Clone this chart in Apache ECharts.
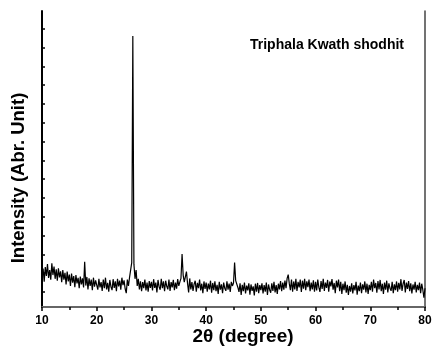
<!DOCTYPE html>
<html>
<head>
<meta charset="utf-8">
<script src="https://cdn.jsdelivr.net/npm/echarts@6/dist/echarts.min.js"></script>
<style>html,body{margin:0;padding:0;background:#fff}#c{width:435px;height:349px}</style>
</head>
<body>
<div id="c"></div>
<script>
// 2θ sampling grid
var twoThetaStart = 10.0;
var twoThetaStep = 0.2;
// Intensity readings (arbitrary units), 10.0° .. 80.0° in 0.2° steps
var seg10 = [150,205,135,212,165,228,155,196,145,232,
             170,215,150,200,140,206,158,190,132,196,
             146,182,120,188,136,172,112,178,130,164,
             106,170,126,155,100,162,120,152,104,240,
             114,160,94,152,112,146,90,156,108,142];
var seg20 = [132,92,150,104,132,86,146,100,156,94,
             128,82,144,108,90,148,102,136,84,150,
             110,140,92,156,116,142,96,74,146,112,
             158,162,236,1442,228,150,196,112,150,94,
             136,84,132,100,146,88,130,82,138,102];
var seg30 = [134,88,148,102,130,78,144,108,92,150,
             100,136,84,140,110,94,146,86,132,104,
             144,90,130,98,148,112,134,152,282,170,
             132,160,188,126,78,152,94,132,86,122,
             140,82,128,100,146,88,124,74,136,96];
var seg40 = [130,82,124,94,140,76,128,90,136,84,
             118,70,134,92,120,74,130,100,86,136,
             92,124,80,134,112,128,236,140,130,104,
             80,126,64,118,84,130,72,114,88,126,
             66,120,86,110,62,124,82,128,74,116];
var seg50 = [90,126,72,116,82,130,64,120,92,76,
             126,86,134,78,116,70,124,94,138,84,
             130,92,140,100,152,172,124,90,146,82,
             136,94,150,86,134,104,146,80,140,98,
             150,90,136,106,146,84,130,94,142,82];
var seg60 = [134,88,146,104,80,138,96,150,86,130,
             102,144,82,136,110,148,92,128,74,140,
             104,146,84,134,70,124,90,136,76,118,
             64,112,82,126,72,116,88,134,66,114,
             84,130,74,120,92,136,78,124,70,118];
var seg70 = [90,134,82,146,100,128,76,138,94,144,
             84,124,70,130,92,140,78,126,100,86,
             134,74,120,90,136,82,128,94,148,86,
             124,144,78,130,96,138,84,126,72,120,
             92,134,78,118,90,130,74,124,92,50,100];
var intensity = [].concat(seg10, seg20, seg30, seg40, seg50, seg60, seg70);

// axis ticks
var xTickValues = [10,20,30,40,50,60,70,80];
var yTickValues = [80,180,280,380,480,580,680,780,880,980,1080,1180,1280,1380,1480];

var seriesData = intensity.map(function(v, i){
  return [+(twoThetaStart + i * twoThetaStep).toFixed(2), v];
});

var chart = echarts.init(document.getElementById('c'), null, {renderer:'canvas'});
var FONT = 'Liberation Sans, Arial, sans-serif';
chart.setOption({
  animation:false,
  backgroundColor:'#fff',
  grid:{left:42, right:10, top:11, bottom:42, containLabel:false},
  xAxis:[{
    type:'value', min:10, max:80, interval:10,
    axisLine:{show:true, onZero:false, lineStyle:{color:'#000', width:2}},
    axisTick:{show:true, inside:false, length:4, lineStyle:{color:'#000', width:1.5}},
    minorTick:{show:true, splitNumber:2, length:3, lineStyle:{color:'#000', width:1.5}},
    splitLine:{show:false},
    axisLabel:{show:true, margin:8, color:'#000', fontFamily:FONT, fontWeight:'bold', fontSize:12,
      formatter:function(v){return xTickValues.indexOf(v) >= 0 ? String(v) : '';}}
  },{
    type:'value', position:'top', min:10, max:80,
    axisLine:{show:true, lineStyle:{color:'#888', width:1.5}},
    axisTick:{show:false}, axisLabel:{show:false}, splitLine:{show:false}
  }],
  yAxis:[{
    type:'value', min:0, max:1575,
    axisLine:{show:true, onZero:false, lineStyle:{color:'#000', width:2}},
    axisTick:{show:true, inside:true, length:3, customValues:yTickValues, lineStyle:{color:'#000', width:1.5}},
    axisLabel:{show:false},
    splitLine:{show:false}
  },{
    type:'value', position:'right', min:0, max:1575,
    axisLine:{show:true, onZero:false, lineStyle:{color:'#444', width:1.5}},
    axisTick:{show:false}, axisLabel:{show:false}, splitLine:{show:false}
  }],
  series:[{
    type:'line', data:seriesData, showSymbol:false, symbol:'none',
    lineStyle:{color:'#000', width:1.2}, silent:true
  }],
  graphic:[
    {type:'text', x:243, y:337, style:{text:'2θ (degree)', font:'bold 19px ' + FONT, fill:'#000', textAlign:'center', textVerticalAlign:'middle'}},
    {type:'text', x:19, y:178, rotation:Math.PI/2, style:{text:'Intensity (Abr. Unit)', font:'bold 18.5px ' + FONT, fill:'#000', textAlign:'center', textVerticalAlign:'middle'}},
    {type:'text', x:250, y:45, style:{text:'Triphala Kwath shodhit', font:'bold 14px ' + FONT, fill:'#000', textAlign:'left', textVerticalAlign:'middle'}}
  ]
});
</script>
</body>
</html>
